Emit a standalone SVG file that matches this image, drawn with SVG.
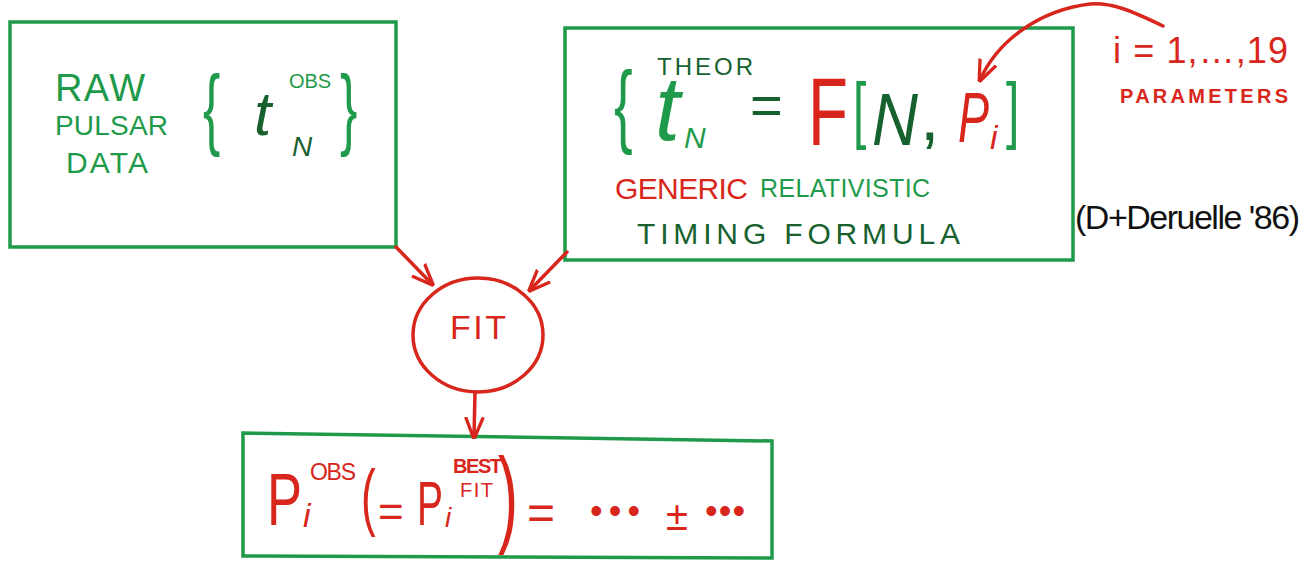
<svg xmlns="http://www.w3.org/2000/svg" width="1310" height="563" viewBox="0 0 1310 563">
<style>
.g{fill:#1f9a4a;font-family:"Liberation Sans",Arial,sans-serif}
.dg{fill:#17612f;font-family:"Liberation Sans",Arial,sans-serif}
.r{fill:#d8261c;font-family:"Liberation Sans",Arial,sans-serif}
.k{fill:#111;font-family:"Liberation Sans",Arial,sans-serif}
.box{fill:none;stroke:#1f9a4a;stroke-width:3.5}
.rl{fill:none;stroke:#d8261c;stroke-width:3.5;stroke-linecap:round}
</style>
<defs>
<marker id="ah2" viewBox="0 0 10 10" refX="9" refY="5" markerWidth="22" markerHeight="22" orient="auto" markerUnits="userSpaceOnUse">
<path d="M0,1 L10,5 L0,9" fill="none" stroke="#d8261c" stroke-width="1.5"/>
</marker>
</defs>
<rect width="1310" height="563" fill="#fff"/>

<g id="raw-data">
<rect class="box" x="10" y="22" width="386" height="225"/>
<text class="g" x="55" y="101" font-size="38" textLength="90">RAW</text>
<text class="g" x="55" y="135" font-size="28" textLength="113">PULSAR</text>
<text class="g" x="66" y="173" font-size="30" textLength="82">DATA</text>
<text class="g" font-size="52" transform="translate(203,138) scale(1,1.7)">{</text>
<text class="dg" x="254" y="135" font-size="62" font-style="italic">t</text>
<text class="g" x="289" y="88" font-size="20" textLength="42">OBS</text>
<text class="dg" x="292" y="156" font-size="28" font-style="italic">N</text>
<text class="g" font-size="52" transform="translate(340,138) scale(1,1.7)">}</text>
</g>

<g id="timing-formula">
<rect class="box" x="565" y="28" width="508" height="232"/>
<text class="g" font-size="56" transform="translate(614,136) scale(1,1.65)">{</text>
<text class="g" x="655" y="140" font-size="90" font-style="italic">t</text>
<text class="dg" x="657" y="75" font-size="24" textLength="96">THEOR</text>
<text class="g" x="684" y="148" font-size="30" font-style="italic">N</text>
<text class="dg" x="750" y="124" font-size="56">=</text>
<text class="r" x="808" y="145" font-size="96" textLength="40" lengthAdjust="spacingAndGlyphs">F</text>
<text class="g" font-size="48" transform="translate(853,135) scale(1,1.55)">[</text>
<text class="dg" x="872" y="145" font-size="74" font-style="italic" textLength="46" lengthAdjust="spacingAndGlyphs">N</text>
<text class="dg" x="920" y="140" font-size="70">,</text>
<text class="r" x="958" y="142" font-size="70" font-style="italic" textLength="31" lengthAdjust="spacingAndGlyphs">P</text>
<text class="r" x="990" y="149" font-size="34" font-style="italic">i</text>
<text class="g" font-size="48" transform="translate(1006,135) scale(1,1.55)">]</text>
<text class="r" x="615" y="199" font-size="30" textLength="133">GENERIC</text>
<text class="g" x="760" y="197" font-size="25" textLength="170">RELATIVISTIC</text>
<text class="dg" x="637" y="244" font-size="30" textLength="323">TIMING FORMULA</text>
</g>

<g id="parameters-note">
<text class="r" x="1113" y="63" font-size="36" textLength="175">i = 1,…,19</text>
<text class="r" x="1120" y="103" font-size="20" font-weight="bold" textLength="168">PARAMETERS</text>
</g>

<g id="reference-note">
<text class="k" x="1075" y="229" font-size="34" textLength="225">(D+Deruelle '86)</text>
</g>

<g id="fit">
<ellipse cx="478" cy="335" rx="65" ry="57" fill="none" stroke="#d8261c" stroke-width="3.5"/>
<text class="r" x="450" y="339" font-size="34" textLength="56">FIT</text>
</g>

<g id="result">
<polygon class="box" points="243,433 772,441 772,558 243,556"/>
<text class="r" x="267" y="525" font-size="74" textLength="35" lengthAdjust="spacingAndGlyphs">P</text>
<text class="r" x="303" y="527" font-size="34" font-style="italic">i</text>
<text class="r" x="310" y="480" font-size="23" textLength="46">OBS</text>
<text class="r" font-size="44" transform="translate(361,522) scale(1,1.7)">(</text>
<text class="r" x="378" y="527" font-size="44">=</text>
<text class="r" x="417" y="525" font-size="63" textLength="26" lengthAdjust="spacingAndGlyphs">P</text>
<text class="r" x="445" y="527" font-size="28" font-style="italic">i</text>
<text class="r" x="453" y="473" font-size="20" font-weight="bold" textLength="49">BEST</text>
<text class="r" x="460" y="497" font-size="20" textLength="33">FIT</text>
<text class="r" font-size="60" transform="translate(498,533) scale(1,1.8)">)</text>
<text class="r" x="527" y="529" font-size="48">=</text>
<text class="r" x="590" y="523" font-size="36" textLength="50">•••</text>
<text class="r" x="666" y="530" font-size="40">±</text>
<text class="r" x="705" y="523" font-size="36" textLength="40">•••</text>
</g>

<g id="connectors">
<path class="rl" d="M396,247 L432,284" marker-end="url(#ah2)"/>
<path class="rl" d="M567,252 L530,290" marker-end="url(#ah2)"/>
<path class="rl" d="M475,392 L474,437" marker-end="url(#ah2)"/>
<path class="rl" d="M1163,26 C1130,10 1110,2 1090,4 C1040,10 998,40 980,80" marker-end="url(#ah2)"/>
</g>
</svg>
